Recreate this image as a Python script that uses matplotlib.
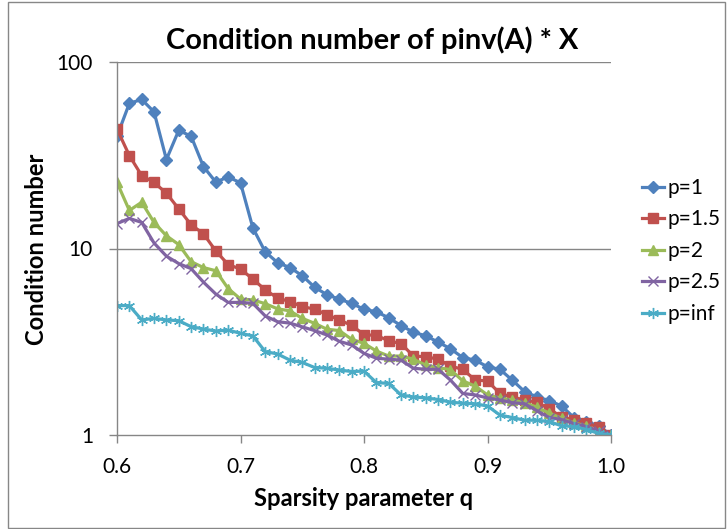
import matplotlib
matplotlib.use('Agg')
import matplotlib.pyplot as plt
from matplotlib.patches import Rectangle
from matplotlib.ticker import NullLocator

plt.rcParams['font.family'] = ['Lato', 'DejaVu Sans']

# sparsity parameter q
q = [0.60, 0.61, 0.62, 0.63, 0.64, 0.65, 0.66, 0.67, 0.68, 0.69,
     0.70, 0.71, 0.72, 0.73, 0.74, 0.75, 0.76, 0.77, 0.78, 0.79,
     0.80, 0.81, 0.82, 0.83, 0.84, 0.85, 0.86, 0.87, 0.88, 0.89,
     0.90, 0.91, 0.92, 0.93, 0.94, 0.95, 0.96, 0.97, 0.98, 0.99, 1.00]

p1 = [40, 60, 63, 54, 30, 43, 40, 27.5, 22.7, 24.2,
      22.5, 12.9, 9.6, 8.4, 7.9, 7.15, 6.2, 5.65, 5.35, 5.08,
      4.72, 4.58, 4.25, 3.86, 3.56, 3.4, 3.15, 2.9, 2.6, 2.52,
      2.32, 2.25, 1.97, 1.71, 1.60, 1.53, 1.43, 1.24, 1.18, 1.12, 1.0]

p15 = [43.7, 31.5, 24.6, 22.6, 19.8, 16.3, 13.4, 12.0, 9.7, 8.2,
       7.76, 6.86, 6.0, 5.43, 5.19, 4.88, 4.73, 4.42, 4.14, 3.87,
       3.45, 3.42, 3.2, 3.09, 2.65, 2.63, 2.55, 2.34, 2.25, 1.97,
       1.95, 1.67, 1.60, 1.54, 1.50, 1.38, 1.25, 1.20, 1.16, 1.10, 1.0]

p2 = [22.6, 16.0, 17.7, 13.8, 11.7, 10.5, 8.5, 7.9, 7.6, 6.1,
      5.36, 5.30, 5.06, 4.75, 4.63, 4.22, 3.97, 3.69, 3.63, 3.26,
      3.1, 2.82, 2.65, 2.65, 2.55, 2.37, 2.30, 2.24, 1.95, 1.83,
      1.64, 1.58, 1.54, 1.49, 1.41, 1.31, 1.23, 1.16, 1.12, 1.04, 1.0]

p25 = [13.6, 14.5, 13.8, 10.7, 9.1, 8.3, 7.8, 6.6, 5.7, 5.14,
       5.14, 5.08, 4.35, 4.05, 3.98, 3.8, 3.63, 3.44, 3.18, 3.04,
       2.74, 2.58, 2.55, 2.52, 2.28, 2.25, 2.25, 1.97, 1.67, 1.64,
       1.58, 1.54, 1.49, 1.47, 1.35, 1.24, 1.21, 1.15, 1.11, 1.05, 1.0]

pinf = [4.94, 4.94, 4.14, 4.22, 4.14, 4.10, 3.81, 3.70, 3.61, 3.65,
        3.51, 3.40, 2.80, 2.72, 2.52, 2.45, 2.30, 2.28, 2.23, 2.19,
        2.20, 1.91, 1.89, 1.64, 1.60, 1.58, 1.55, 1.50, 1.48, 1.47,
        1.43, 1.28, 1.24, 1.20, 1.20, 1.18, 1.12, 1.11, 1.07, 1.02, 1.0]

labels = ['p=1', 'p=1.5', 'p=2', 'p=2.5', 'p=inf']
xticks = [0.6, 0.7, 0.8, 0.9, 1.0]
xticklabels = ['0.6', '0.7', '0.8', '0.9', '1.0']
yticks = [1, 10, 100]
yticklabels = ['1', '10', '100']

W, H = 727, 529
PT = 72 / 100  # points per pixel at dpi 100
fig = plt.figure(figsize=(W / 100, H / 100), dpi=100)
ax = fig.add_axes([117 / W, 1 - 435 / H, (611 - 117) / W, (435 - 62) / H])

styles = [
    dict(color='#4F81BD', marker='D', ms=6, mec='#4F81BD'),
    dict(color='#C0504D', marker='s', ms=6.5, mec='#C0504D'),
    dict(color='#9BBB59', marker='^', ms=7, mec='#9BBB59'),
    dict(color='#8064A2', marker='x', ms=7, mew=1.0),
    dict(color='#4BACC6', marker=(6, 2, 0), ms=8, mew=1.0),
]
for ys, lab, st in zip([p1, p15, p2, p25, pinf], labels, styles):
    ax.plot(q, ys, lw=2.3, label=lab, **st)

ax.set_yscale('log')
ax.set_xlim(0.6, 1.0)
ax.set_ylim(1, 100)
ax.set_xticks(xticks)
ax.set_xticklabels(xticklabels)
ax.set_yticks(yticks)
ax.set_yticklabels(yticklabels)
ax.yaxis.set_minor_locator(NullLocator())
ax.xaxis.set_minor_locator(NullLocator())

grid_c = '#868686'
for v in [10, 100]:
    ax.axhline(v, color=grid_c, lw=1.0, zorder=0)
for s in ['top', 'right']:
    ax.spines[s].set_visible(False)
for s in ['left', 'bottom']:
    ax.spines[s].set_color(grid_c)
    ax.spines[s].set_linewidth(1.0)
ax.tick_params(axis='both', colors=grid_c, labelcolor='black',
               length=8 * PT, width=1.0, direction='out')

title = fig.text(372 / W, 1 - 49 / H, 'Condition number of pinv(A) * X',
                 fontsize=20, fontweight='bold', ha='center', va='baseline')
xlab = fig.text(364 / W, 1 - 498 / H, 'Sparsity parameter q',
                fontsize=15, fontweight='bold', ha='center', va='center')
ylab = fig.text(37 / W, 1 - 249 / H, 'Condition number', rotation=90,
                fontsize=15, fontweight='bold', ha='center', va='center')

# scale fonts so that text widths match the reference in pixels
def fit(t, target, use_height=False):
    fig.canvas.draw()
    bb = t.get_window_extent()
    cur = bb.height if use_height else bb.width
    t.set_fontsize(t.get_fontsize() * target / cur)

fit(title, 413)
fit(xlab, 221)
fit(ylab, 192, use_height=True)

ax.tick_params(labelsize=15)
fig.canvas.draw()
w100 = ax.get_yticklabels()[2].get_window_extent().width
tick_fs = 15 * 36.5 / w100
ax.tick_params(labelsize=tick_fs)
ax.tick_params(axis='y', pad=(117 - 8 - 93) * PT)
ax.tick_params(axis='x', pad=(457 - 435 - 8) * PT)

leg = fig.legend(loc='upper left', bbox_to_anchor=(642 / W, 1 - 178 / H),
                 frameon=False, fontsize=tick_fs, handlelength=1.05,
                 handletextpad=0.15, labelspacing=0.55, borderpad=0,
                 borderaxespad=0)

fig.patches.append(Rectangle((7.5 / W, 1.5 / H), (725 - 7.5) / W, (527.5 - 1.5) / H,
                             transform=fig.transFigure, fill=False,
                             edgecolor='#878787', lw=1.0))

fig.savefig('out.png', dpi=100)
